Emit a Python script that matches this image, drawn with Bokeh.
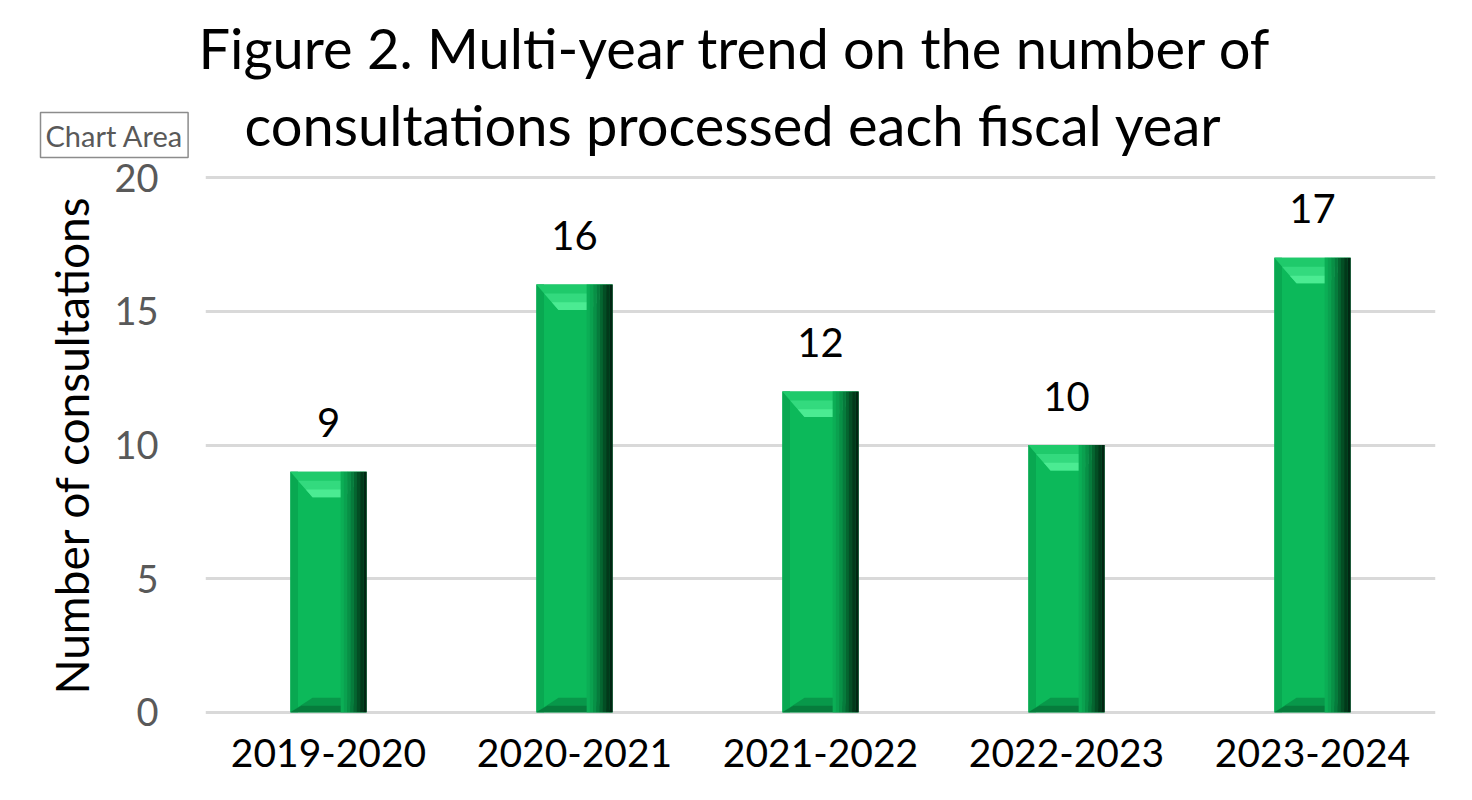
import numpy as np
from bokeh.plotting import figure
from bokeh.models import Range1d, FixedTicker, Title, ColumnDataSource
from bokeh.core.properties import value
from bokeh.embed import file_html
from bokeh.resources import INLINE

# ---- data ----
years = ["2019-2020", "2020-2021", "2021-2022", "2022-2023", "2023-2024"]
consultations = [9, 16, 12, 10, 17]
y_ticks = [0, 5, 10, 15, 20]
title_line1 = "Figure 2. Multi-year trend on the number of"
title_line2 = "consultations processed each fiscal year"
y_label = "Number of consultations"
hover_box_text = "Chart Area"

FONT = "Lato"
W, H = 1456, 784

p = figure(width=W, height=H, output_backend="svg", toolbar_location=None,
           x_range=Range1d(-0.5, 4.5), y_range=Range1d(-0.08, 20.08),
           min_border_left=205, min_border_right=21, min_border_top=175,
           min_border_bottom=70)
p.title.visible = False
p.outline_line_color = None
p.background_fill_color = "white"
p.border_fill_color = "white"

# axes
p.xaxis.ticker = FixedTicker(ticks=list(range(len(years))))
p.xaxis.major_label_overrides = {i: y for i, y in enumerate(years)}
p.yaxis.ticker = FixedTicker(ticks=y_ticks)
for ax in (p.xaxis[0], p.yaxis[0]):
    ax.axis_line_color = None
    ax.major_tick_line_color = None
    ax.minor_tick_line_color = None
    ax.major_label_text_font = FONT
p.xaxis.major_label_text_font_size = "39px"
p.xaxis.major_label_text_color = "#000000"
p.xaxis.major_label_standoff = 18
p.yaxis.major_label_text_font_size = "38px"
p.yaxis.major_label_text_color = "#595959"
p.yaxis.major_label_standoff = 41
p.yaxis.axis_label = y_label
p.yaxis.axis_label_text_font = FONT
p.yaxis.axis_label_text_font_size = "46px"
p.yaxis.axis_label_text_font_style = "normal"
p.yaxis.axis_label_text_color = "#000000"
p.yaxis.axis_label_standoff = 12

p.xgrid.grid_line_color = None
p.ygrid.grid_line_color = "#d9d9d9"
p.ygrid.grid_line_width = 3

# ---- bars with bevel look ----
x = np.arange(len(years), dtype=float)
v = np.array(consultations, dtype=float)
bw = 0.31
p.vbar(x=x, top=v, bottom=0, width=bw, fill_color="#0cb95a", line_color=None)

# left slightly darker strip
p.vbar(x=x - bw / 2 + bw * 0.05, top=v, bottom=0, width=bw * 0.1,
       fill_color="#09a851", line_color=None)

# top bevel
ix = 0.09
bh = 0.95
xs_top = [[xi - bw / 2, xi + bw / 2, xi + bw / 2 - ix, xi - bw / 2 + ix] for xi in x]
ys_top = [[vi, vi, vi - bh, vi - bh] for vi in v]
p.patches(xs=xs_top, ys=ys_top, fill_color="#1fca6b", line_color=None)
xs_mid = [[xi - bw / 2 + ix * 0.35, xi + bw / 2 - ix * 0.35, xi + bw / 2 - ix, xi - bw / 2 + ix] for xi in x]
ys_mid = [[vi - bh * 0.35, vi - bh * 0.35, vi - bh, vi - bh] for vi in v]
p.patches(xs=xs_mid, ys=ys_mid, fill_color="#33da7e", line_color=None)
xs_band = [[xi - bw / 2 + ix * 0.7, xi + bw / 2 - ix * 0.7, xi + bw / 2 - ix, xi - bw / 2 + ix] for xi in x]
ys_band = [[vi - bh * 0.7, vi - bh * 0.7, vi - bh, vi - bh] for vi in v]
p.patches(xs=xs_band, ys=ys_band, fill_color="#4beb92", line_color=None)

# bottom bevel
bb = 0.55
xs_bot = [[xi - bw / 2, xi + bw / 2, xi + bw / 2 - ix, xi - bw / 2 + ix] for xi in x]
ys_bot = [[0, 0, bb, bb] for _ in v]
p.patches(xs=xs_bot, ys=ys_bot, fill_color="#08984a", line_color=None)
xs_bot2 = [[xi - bw / 2, xi + bw / 2, xi + bw / 2 - ix * 0.5, xi - bw / 2 + ix * 0.5] for xi in x]
ys_bot2 = [[0, 0, bb * 0.45, bb * 0.45] for _ in v]
p.patches(xs=xs_bot2, ys=ys_bot2, fill_color="#067c3c", line_color=None)

# right dark gradient strips
shades = ["#0bae55", "#0aa14f", "#089046", "#067b3c", "#056530", "#034e24", "#02391a", "#012612"]
n = len(shades)
start = 0.66
sw = bw * (1 - start) / n
for k, c in enumerate(shades):
    cx = x - bw / 2 + bw * start + sw * (k + 0.5)
    p.vbar(x=cx, top=v, bottom=0, width=sw * 1.04, fill_color=c, line_color=None)

# data labels
src = ColumnDataSource(dict(x=x, y=v, t=[str(c) for c in consultations]))
p.text(x="x", y="y", text="t", source=src, text_align="center",
       text_baseline="alphabetic", y_offset=-49, text_font=value(FONT),
       text_font_size="40px", text_color="#000000")

# title line 2 (row nearest the frame)
t2 = Title(text=title_line2, align="left", text_font=FONT,
           text_font_size="56px", text_font_style="normal", text_color="#000000",
           offset=39, standoff=36)
# title line 1
t1 = Title(text=title_line1, align="left", text_font=FONT, text_font_size="56px",
           text_font_style="normal", text_color="#000000", offset=-7, standoff=-20)
# "Chart Area" hover box, outermost row, pulled down beside title line 2
tc = Title(text=hover_box_text, align="left", text_font=FONT, text_font_size="29px",
           text_font_style="normal", text_color="#595959", offset=-165, standoff=-272,
           border_line_color="#8c8c8c", border_line_width=1.5,
           background_fill_color="white", padding=5)
p.add_layout(t2, "above")
p.add_layout(t1, "above")
p.add_layout(tc, "above")

open("out.html", "w").write(file_html(p, INLINE))
